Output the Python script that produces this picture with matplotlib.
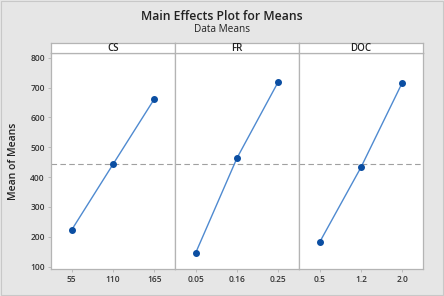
import matplotlib
matplotlib.use('Agg')
import matplotlib.pyplot as plt
from matplotlib.patches import Rectangle

# Main effects data
factors = ["CS", "FR", "DOC"]
levels = [["55", "110", "165"], ["0.05", "0.16", "0.25"], ["0.5", "1.2", "2.0"]]
means = [[223, 443, 662], [146, 464, 720], [182, 433, 717]]
grand_mean = 443
yticks = [100, 200, 300, 400, 500, 600, 700, 800]

plt.rcParams['font.family'] = ['Open Sans', 'DejaVu Sans']
bg = '#e6e6e6'
edge = '#b4b4b4'
line_c = '#4f8ad0'
mark_c = '#0b4ea2'

fig = plt.figure(figsize=(4.44, 2.96), dpi=100, facecolor=bg)
fig.patches.append(Rectangle((0.002, 0.003), 0.996, 0.994, transform=fig.transFigure,
                             fill=False, edgecolor='#c8c8c8', linewidth=0.8))

left, right = 51 / 444, 423 / 444
bottom, top = 1 - 269 / 296, 1 - 53 / 296
strip_h = 10 / 296
w = (right - left) / 3

for i, name in enumerate(factors):
    ax = fig.add_axes([left + i * w, bottom, w, top - bottom])
    ax.set_facecolor('white')
    x = range(len(levels[i]))
    ax.plot(x, means[i], color=line_c, linewidth=1.0, zorder=3)
    ax.plot(x, means[i], 'o', color=mark_c, markersize=4, zorder=4)
    ax.axhline(grand_mean, color='#a0a0a0', linestyle=(0, (5, 3)), linewidth=0.8, zorder=2)
    ax.set_xlim(-0.5, 2.5)
    ax.set_ylim(92, 816)
    ax.set_xticks(list(x))
    ax.set_xticklabels(levels[i])
    ax.set_yticks(yticks)
    for s in ax.spines.values():
        s.set_color(edge)
        s.set_linewidth(0.9)
    ax.tick_params(axis='both', labelsize=6, colors='#333333', length=2.5, width=0.6,
                   color=edge, pad=2)
    for lab in ax.get_xticklabels() + ax.get_yticklabels():
        lab.set_fontweight('semibold')
    if i == 0:
        ax.set_ylabel("Mean of Means", fontsize=7.5, fontweight='semibold', color='#222222', labelpad=8)
    else:
        ax.tick_params(axis='y', left=False, labelleft=False)

    sax = fig.add_axes([left + i * w, top, w, strip_h])
    sax.set_facecolor('white')
    sax.set_xticks([])
    sax.set_yticks([])
    for s in sax.spines.values():
        s.set_color(edge)
        s.set_linewidth(0.9)
    sax.text(0.5, 0.45, name, transform=sax.transAxes, ha='center', va='center',
             fontsize=7, fontweight='semibold', color='#222222')

fig.text(0.5, 1 - 16 / 296, "Main Effects Plot for Means", ha='center', va='center',
         fontsize=8.8, fontweight='semibold', color='#222222')
fig.text(0.5, 1 - 30 / 296, "Data Means", ha='center', va='center',
         fontsize=7.2, color='#222222')

fig.savefig('out.png', dpi=100, facecolor=bg)
